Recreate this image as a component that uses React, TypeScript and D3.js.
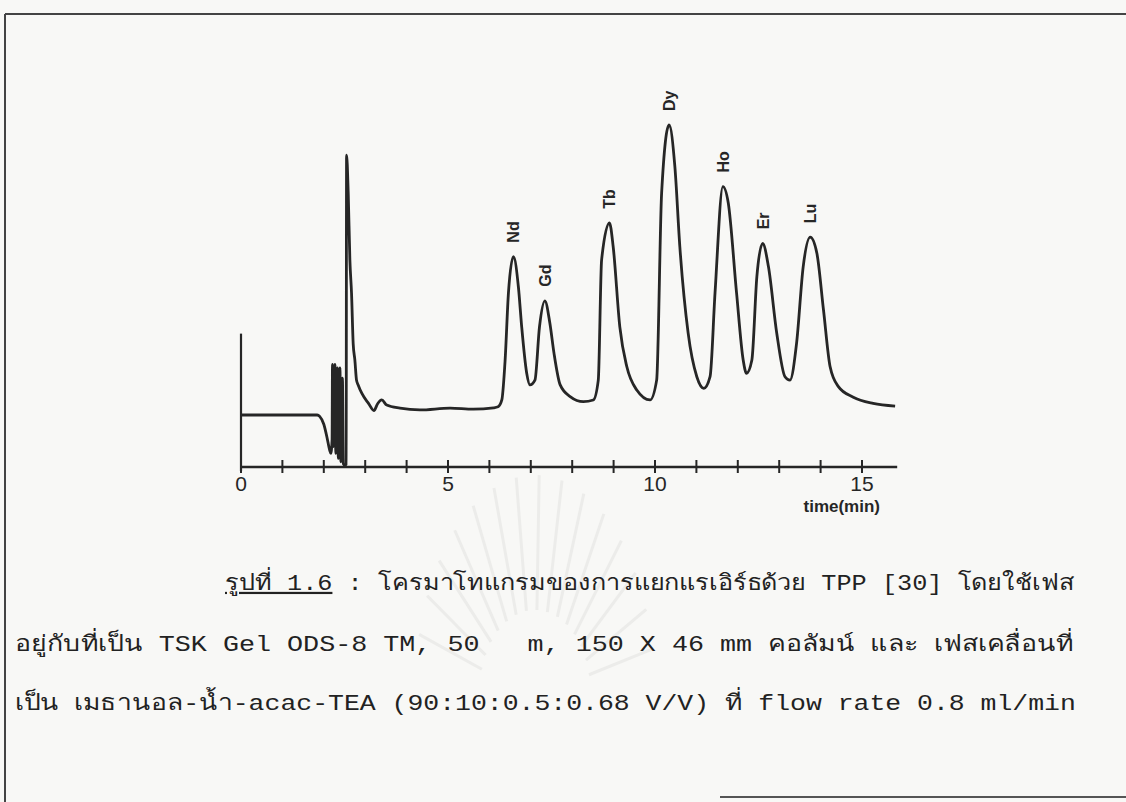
import React, { useRef, useEffect } from "react";
import * as d3 from "d3";

// retention time (min)
const retentionTime = [
  0.0, 1.84, 1.9, 2.0, 2.08, 2.14, 2.17, 2.2, 2.21, 2.23, 2.26, 2.27, 2.29, 2.31,
  2.33, 2.35, 2.37, 2.39, 2.41, 2.43, 2.45, 2.47, 2.51, 2.54, 2.55, 2.59, 2.63,
  2.67, 2.71, 2.75, 2.79, 2.83, 2.92, 3.08, 3.21, 3.3, 3.4, 3.52, 3.84, 4.32,
  5.05, 5.61, 6.1, 6.21, 6.3, 6.38, 6.46, 6.58, 6.7, 6.78, 6.9, 6.98, 7.1, 7.21,
  7.34, 7.46, 7.56, 7.71, 7.95, 8.27, 8.51, 8.63, 8.71, 8.9, 8.99, 9.15, 9.32,
  9.56, 9.88, 10.04, 10.16, 10.34, 10.48, 10.6, 10.8, 11.01, 11.18, 11.33, 11.45,
  11.64, 11.77, 11.97, 12.13, 12.21, 12.34, 12.46, 12.6, 12.74, 12.94, 13.14,
  13.26, 13.42, 13.58, 13.75, 13.91, 14.07, 14.23, 14.43, 14.79, 15.27, 15.8,
];

// detector response (relative, Dy peak = 100)
const detectorSignal = [
  15.2, 15.2, 14.8, 12.5, 8.5, 5.0, 4.0, 8.0, 30.0, 6.0, 12.0, 30.0, 4.0, 10.0,
  29.0, 2.5, 9.0, 29.0, 1.5, 6.0, 26.0, 1.0, 0.5, 0.8, 91.2, 80.0, 60.5,
  50.8, 36.0, 31.3, 25.4, 24.0, 21.5, 18.6, 16.5, 18.5, 19.6, 18.1, 17.2, 16.7,
  17.2, 16.9, 17.3, 17.6, 19.6, 31.3, 50.9, 61.5, 52.7, 41.0, 27.5, 24.0, 25.4, 41.0,
  48.6, 42.1, 33.3, 24.0, 20.6, 19.1, 19.6, 25.4, 60.5, 71.4, 64.4, 41.0, 29.3,
  22.5, 19.6, 25.4, 80.1, 100, 87.8, 64.4, 39.2, 26.4, 23.0, 26.4, 50.9,
  82.0, 77.2, 50.9, 31.3, 27.4, 31.3, 55.6, 65.4, 58.6, 39.2, 26.4,
  25.4, 36.2, 58.6, 67.2, 62.5, 45.9, 29.3, 23.5, 20.4, 18.6, 17.8,
];

const peakNames = ["Nd", "Gd", "Tb", "Dy", "Ho", "Er", "Lu"];
const peakTimes = [6.58, 7.34, 8.9, 10.34, 11.64, 12.6, 13.75];
const peakHeights = [61.5, 48.6, 71.4, 100, 82.0, 65.4, 67.2];

const minorTicks = d3.range(0, 16);
const labelTicks = [0, 5, 10, 15];
const axisLabel = "time(min)";

const captionLines = [
  "รูปที่ 1.6 : โครมาโทแกรมของการแยกแรเอิร์ธด้วย TPP [30] โดยใช้เฟส",
  "อยู่กับที่เป็น TSK Gel ODS-8 TM, 50   m, 150 X 46 mm คอลัมน์ และ เฟสเคลื่อนที่",
  "เป็น เมธานอล-น้ำ-acac-TEA (90:10:0.5:0.68 V/V) ที่ flow rate 0.8 ml/min",
];
const captionTitle = "รูปที่ 1.6";

const W = 1126;
const H = 802;
const ink = "#262626";

export default function App() {
  const svgRef = useRef<SVGSVGElement>(null);

  useEffect(() => {
    drawChart();
  }, []);

  function drawChart() {
    const svg = d3.select(svgRef.current);
    svg.selectAll("*").remove();

    svg.append("rect").attr("width", W).attr("height", H).attr("fill", "#f8f8f6");

    // faint library watermark behind the caption
    const wm = svg.append("g").attr("stroke", "#ececea").attr("fill", "none").attr("stroke-width", 3);
    d3.range(-165, -10, 11).forEach((a) => {
      const r = (a * Math.PI) / 180;
      const c = Math.cos(r), s = Math.sin(r);
      wm.append("line")
        .attr("x1", 535 + c * 55).attr("y1", 690 + s * 80)
        .attr("x2", 535 + c * 120).attr("y2", 690 + s * 215);
    });

    // frame of the scanned page
    svg.append("line").attr("x1", 5).attr("x2", W).attr("y1", 14).attr("y2", 14)
      .attr("stroke", "#444").attr("stroke-width", 2);
    svg.append("line").attr("x1", 5).attr("x2", 5).attr("y1", 14).attr("y2", H)
      .attr("stroke", "#444").attr("stroke-width", 2);
    svg.append("line").attr("x1", 720).attr("x2", W).attr("y1", 797).attr("y2", 797)
      .attr("stroke", "#555").attr("stroke-width", 2);

    const xScale = d3.scaleLinear().domain([0, 15]).range([241, 862]);
    const yScale = d3.scaleLinear().domain([0, 100]).range([467, 125]);
    const y0 = yScale(0);

    // x axis
    const g = svg.append("g");
    g.append("line")
      .attr("x1", xScale(0)).attr("x2", xScale(15.85))
      .attr("y1", y0).attr("y2", y0)
      .attr("stroke", ink).attr("stroke-width", 2.4);
    g.selectAll(".tick")
      .data(minorTicks)
      .join("line")
      .attr("x1", (d) => xScale(d)).attr("x2", (d) => xScale(d))
      .attr("y1", y0 - 7).attr("y2", y0 + 6)
      .attr("stroke", ink).attr("stroke-width", 2);
    g.selectAll(".tlabel")
      .data(labelTicks)
      .join("text")
      .attr("x", (d) => xScale(d))
      .attr("y", y0 + 24)
      .attr("text-anchor", "middle")
      .attr("font-family", "Liberation Sans, Arial, sans-serif")
      .attr("font-size", 21)
      .attr("fill", ink)
      .text((d) => d);
    g.append("text")
      .attr("x", 880).attr("y", 512)
      .attr("text-anchor", "end")
      .attr("font-family", "Liberation Sans, Arial, sans-serif")
      .attr("font-weight", "bold")
      .attr("font-size", 17)
      .attr("fill", ink)
      .text(axisLabel);

    // y axis stub
    g.append("line")
      .attr("x1", xScale(0)).attr("x2", xScale(0))
      .attr("y1", yScale(39)).attr("y2", y0 + 4)
      .attr("stroke", ink).attr("stroke-width", 2.2);

    // trace
    const pts = retentionTime.map((t, i) => [t, detectorSignal[i]] as [number, number]);
    const line = d3.line<[number, number]>()
      .x((d) => xScale(d[0]))
      .y((d) => yScale(d[1]))
      .curve(d3.curveMonotoneX);
    g.append("path")
      .datum(pts)
      .attr("fill", "none")
      .attr("stroke", ink)
      .attr("stroke-width", 2.8)
      .attr("stroke-linejoin", "round")
      .attr("d", line);

    // peak labels
    g.selectAll(".plabel")
      .data(peakNames)
      .join("text")
      .attr("transform", (d, i) =>
        `translate(${xScale(peakTimes[i]) + 6},${yScale(peakHeights[i]) - 14}) rotate(-90)`)
      .attr("font-family", "Liberation Sans, Arial, sans-serif")
      .attr("font-weight", "bold")
      .attr("font-size", 16)
      .attr("fill", ink)
      .text((d) => d);

    // caption, each line stretched to the width it has on the page
    const lineBoxes = [
      { x: 225, x2: 1075, y: 590 },
      { x: 15, x2: 1075, y: 651 },
      { x: 15, x2: 1075, y: 710 },
    ];
    captionLines.forEach((txt, i) => {
      const b = lineBoxes[i];
      const t = svg.append("text")
        .attr("font-family", "Liberation Mono, DejaVu Sans Mono, monospace")
        .attr("font-size", 22)
        .attr("fill", "#222")
        .style("white-space", "pre");
      if (i === 0) {
        t.append("tspan").attr("text-decoration", "underline").text(captionTitle);
        t.append("tspan").text(txt.slice(captionTitle.length));
      } else {
        t.text(txt);
      }
      const w = (t.node() as SVGTextElement).getComputedTextLength();
      const k = w > 0 ? (b.x2 - b.x) / w : 1;
      t.attr("transform", `translate(${b.x},${b.y}) scale(${k},1)`);
    });
  }

  return (
    <div>
      <svg
        ref={svgRef}
        width={W}
        height={H}
        style={{ position: "fixed", left: 0, top: 0, display: "block" }}
      />
    </div>
  );
}
